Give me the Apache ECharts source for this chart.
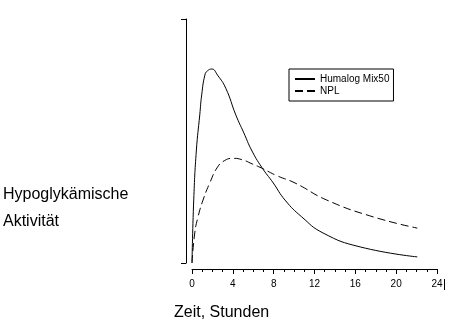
<!DOCTYPE html>
<html>
<head>
<meta charset="utf-8">
<script src="https://cdn.jsdelivr.net/npm/echarts@6/dist/echarts.min.js"></script>
<style>
  html, body { margin: 0; padding: 0; background: #fff; }
  #chart { width: 455px; height: 328px; }
</style>
</head>
<body>
<div id="chart"></div>
<script>
// Werte (Stunden / relative Aktivität)
const humalogHours = [0, 0.17, 0.43, 0.76, 0.95, 1.26, 1.5, 1.94, 2.5, 3.31, 4.29, 5.08, 5.83, 6.82, 7.96, 9.11, 10.75, 12.84, 16.47, 22.07]
const humalogValues = [0, 25.8, 46.3, 60.7, 68.9, 77.0, 78.7, 79.5, 77.0, 71.6, 60.7, 53.3, 46.3, 39.3, 32.8, 25.8, 18.9, 12.3, 6.6, 2.5]
const nplHours = [0, 0.27, 0.59, 1.08, 1.74, 2.5, 3.2, 4.03, 5.0, 5.9, 6.82, 8.3, 10.09, 13.2, 17.75, 22.07]
const nplValues = [0, 12.3, 18.9, 25.8, 32.8, 39.3, 42.0, 42.9, 42.2, 40.6, 38.9, 35.8, 32.8, 25.8, 18.9, 14.3]
const seriesNames = ['Humalog Mix50', 'NPL']
const xTicks = { min: 0, max: 24, interval: 4 }

const font = 'Liberation Sans, Arial, sans-serif'
const chart = echarts.init(document.getElementById('chart'))

const pairs = (xs, ys) => xs.map((x, i) => [x, ys[i]])
const black = { color: '#000', width: 1 }

chart.setOption({
  animation: false,
  // 0: Daten, 1: y-Achse (etwas links abgesetzt), 2: x-Achse (etwas tiefer)
  grid: [
    { left: 192, right: 18, top: 19, bottom: 65 },
    { left: 186, right: 18, top: 19, bottom: 65 },
    { left: 192, right: 18, top: 19, bottom: 59 }
  ],
  legend: {
    orient: 'vertical',
    left: 289,
    top: 69,
    padding: [5, 4, 5, 5],
    itemGap: 2,
    itemWidth: 20,
    itemHeight: 10,
    borderColor: '#000',
    borderWidth: 1,
    itemStyle: { opacity: 0 },
    textStyle: { fontFamily: font, fontSize: 10, color: '#000' },
    data: seriesNames
  },
  xAxis: [
    { gridIndex: 0, type: 'value', min: xTicks.min, max: xTicks.max, show: false },
    { gridIndex: 1, type: 'value', min: xTicks.min, max: xTicks.max, show: false },
    {
      gridIndex: 2,
      type: 'value',
      min: xTicks.min,
      max: xTicks.max,
      interval: xTicks.interval,
      axisLine: { lineStyle: black },
      axisTick: { length: 5, lineStyle: black },
      minorTick: { show: true, splitNumber: 4, length: 3, lineStyle: black },
      axisLabel: { fontFamily: font, fontSize: 10, color: '#000', margin: 10 },
      splitLine: { show: false }
    }
  ],
  yAxis: [
    { gridIndex: 0, type: 'value', min: 0, max: 100, show: false },
    {
      gridIndex: 1,
      type: 'value',
      min: 0,
      max: 100,
      interval: 100,
      axisLine: { show: true, lineStyle: black },
      axisTick: { show: true, length: 5, lineStyle: black },
      axisLabel: { show: false },
      splitLine: { show: false }
    },
    { gridIndex: 2, type: 'value', min: 0, max: 100, show: false }
  ],
  series: [
    {
      name: seriesNames[0],
      type: 'line',
      smooth: 0.5,
      symbol: 'none',
      lineStyle: black,
      itemStyle: { color: '#000' },
      data: pairs(humalogHours, humalogValues)
    },
    {
      name: seriesNames[1],
      type: 'line',
      smooth: 0.5,
      symbol: 'none',
      lineStyle: { color: '#000', width: 1, type: [8, 4] },
      itemStyle: { color: '#000' },
      data: pairs(nplHours, nplValues)
    }
  ],
  graphic: [
    {
      type: 'text',
      left: 3,
      top: 187,
      style: { text: 'Hypoglykämische', font: '16px ' + font, fill: '#000' }
    },
    {
      type: 'text',
      left: 3,
      top: 214,
      style: { text: 'Aktivität', font: '16px ' + font, fill: '#000' }
    },
    {
      type: 'text',
      left: 174,
      top: 305,
      style: { text: 'Zeit, Stunden', font: '16px ' + font, fill: '#000' }
    },
    {
      type: 'line',
      shape: { x1: 444.5, y1: 279, x2: 444.5, y2: 290 },
      style: { stroke: '#000', lineWidth: 1 }
    }
  ]
})
</script>
</body>
</html>
